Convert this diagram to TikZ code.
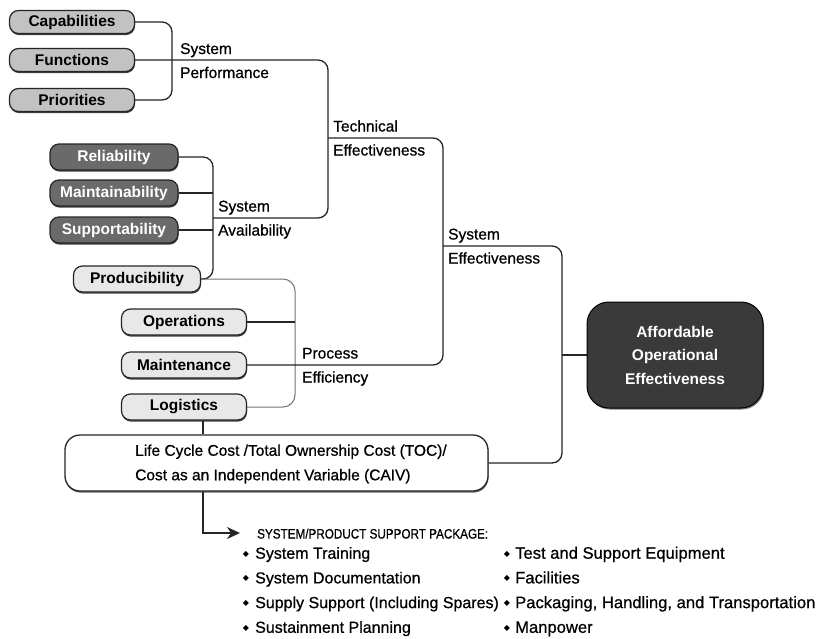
\documentclass[tikz,border=0pt]{standalone}
\usepackage{fontspec}
\setmainfont{Liberation Sans}
\newfontfamily\semib{Liberation Sans}[FakeBold=0.7]
\newfontfamily\narrowf{Liberation Sans}[FakeBold=0.7,FakeStretch=0.86]
\newfontfamily\dejavu{DejaVu Sans}
\usetikzlibrary{shadows,arrows.meta}
\definecolor{gA}{HTML}{C2C2C2}
\definecolor{gB}{HTML}{6A6A6A}
\definecolor{gC}{HTML}{E8E8E8}
\definecolor{gD}{HTML}{3A3A3A}
\definecolor{ln}{HTML}{262626}
\begin{document}
\begin{tikzpicture}[x=1pt,y=-1pt,
  pill/.style={draw=ln, line width=1.2pt, rounded corners=9pt, inner sep=0pt,
    font=\fontsize{15.5}{18}\selectfont\bfseries,
    drop shadow={shadow xshift=0.5pt, shadow yshift=-1.6pt, fill=black, opacity=0.75}},
  pillA/.style={pill, fill=gA, minimum width=125pt, minimum height=23pt},
  pillB/.style={pill, fill=gB, text=white, minimum width=128pt, minimum height=26pt},
  pillC/.style={pill, fill=gC, minimum width=125pt, minimum height=26pt},
  conn/.style={draw=ln, line width=1.3pt, rounded corners=10pt},
  connlight/.style={draw=black!55, line width=1pt, rounded corners=12pt},
  lbl/.style={anchor=base west, inner sep=0pt, font=\semib\fontsize{15.5}{18}\selectfont},
  bul/.style={anchor=base west, inner sep=0pt, font=\semib\fontsize{16}{18}\selectfont},
  bulR/.style={bul, font=\semib\fontsize{16.6}{18}\selectfont},
  dia/.style={inner sep=0pt, font=\dejavu\fontsize{8}{8}\selectfont}
]
\useasboundingbox (0,0) rectangle (825,638);
\fill[white] (0,0) rectangle (825,638);

% first group
\node[pillA] (cap) at (72,22) {Capabilities};
\node[pillA] (fun) at (72,60) {Functions};
\node[pillA] (pri) at (72,100) {Priorities};

% second group
\node[pillB] (rel) at (114,157) {Reliability};
\node[pillB] (mai) at (114,193) {Maintainability};
\node[pillB] (sup) at (114,230) {Supportability};
\node[pillC, minimum width=127pt] (prod) at (137,279) {Producibility};

% third group
\node[pillC] (ops) at (184,322) {Operations};
\node[pillC] (mnt) at (184,365) {Maintenance};
\node[pillC] (log) at (184,407) {Logistics};

% big boxes
\node[draw=ln, line width=1.3pt, fill=white, rounded corners=15pt,
  minimum width=423pt, minimum height=56pt, inner sep=0pt,
  drop shadow={shadow xshift=0.5pt, shadow yshift=-1.6pt, fill=black, opacity=0.6}] (lcc) at (276.5,463) {};
\node[anchor=west, align=left, inner sep=0pt, font=\semib\fontsize{15.5}{24.5}\selectfont] (lcct) at (135,464)
  {Life Cycle Cost /Total Ownership Cost (TOC)/\\Cost as an Independent Variable (CAIV)};

\node[draw=black, line width=1pt, fill=gD, text=white, rounded corners=22pt,
  minimum width=176pt, minimum height=106pt, inner sep=0pt, align=center,
  font=\fontsize{15.5}{23.5}\selectfont\bfseries,
  drop shadow={shadow xshift=1pt, shadow yshift=-1.5pt, fill=black, opacity=0.5}] (aoe) at (675,355)
  {Affordable\\Operational\\Effectiveness};

% junction coordinates
\coordinate (xSP) at (172,0);
\coordinate (xSA) at (213,0);
\coordinate (xPE) at (295,0);
\coordinate (xTE) at (328,0);
\coordinate (xSE) at (443,0);
\coordinate (xAO) at (562,0);
\coordinate (xLC) at (203,0);
\coordinate (yTE) at (0,138);
\coordinate (ySA) at (0,218);
\coordinate (ySE) at (0,246);
\coordinate (tip) at (240,533);

% bracket 1
\draw[conn] (cap.east) -- (xSP |- cap.east) -- (xSP |- pri.east) -- (pri.east);
\draw[conn] (fun.east) -- (xTE |- fun.east) -- (xTE |- ySA) -- (xSA |- ySA);
% bracket 2
\draw[conn] (rel.east) -- (xSA |- rel.east) -- (xSA |- prod.east) -- (prod.east);
\draw[conn] (mai.east) -- (xSA |- mai.east);
\draw[conn] (sup.east) -- (xSA |- sup.east);
% bracket 3
\draw[connlight] (prod.east) -- (xPE |- prod.east) -- (xPE |- log.east) -- (log.east);
\draw[conn] (ops.east) -- (xPE |- ops.east);
% technical effectiveness / process efficiency
\draw[conn] (xTE |- yTE) -- (xSE |- yTE) -- (xSE |- mnt.east) -- (mnt.east);
% system effectiveness
\draw[conn] (xSE |- ySE) -- (xAO |- ySE) -- (xAO |- lcc.east) -- (lcc.east);
\draw[conn] (xAO |- aoe.west) -- (aoe.west);
% logistics to lcc, lcc to package
\draw[conn] (xLC |- log.south) -- (xLC |- lcc.north);
\draw[conn, rounded corners=0pt, -{Stealth[length=13pt,width=12pt,inset=4pt]}] (xLC |- lcc.south) |- (tip);

% labels
\node[lbl] (lSP1) at (180,54) {System};
\node[lbl] (lSP2) at (180,78) {Performance};
\node[lbl] (lTE1) at (333,131.5) {Technical};
\node[lbl] (lTE2) at (333,155.5) {Effectiveness};
\node[lbl] (lSA1) at (218,211.5) {System};
\node[lbl] (lSA2) at (218,235.5) {Availability};
\node[lbl] (lSE1) at (448,239.5) {System};
\node[lbl] (lSE2) at (448,263.5) {Effectiveness};
\node[lbl] (lPE1) at (302,358.5) {Process};
\node[lbl] (lPE2) at (302,382.5) {Efficiency};

% support package
\node[anchor=base west, inner sep=0pt, font=\narrowf\fontsize{13.6}{16}\selectfont] (pkg) at (257,538.5) {SYSTEM/PRODUCT SUPPORT PACKAGE:};
\foreach \t [count=\i] in {System Training, System Documentation, Supply Support (Including Spares), Sustainment Planning} {
  \node[dia] (dl\i) at (246,{529.5+24.7*\i}) {◆};
  \node[bul] (bl\i) at (255,{534+24.7*\i}) {\t};
}
\foreach \t [count=\i] in {Test and Support Equipment, Facilities, {Packaging, Handling, and Transportation}, Manpower} {
  \node[dia] (dr\i) at (507,{529.5+24.7*\i}) {◆};
  \node[bulR] (br\i) at (515,{534+24.7*\i}) {\t};
}
\end{tikzpicture}
\end{document}
